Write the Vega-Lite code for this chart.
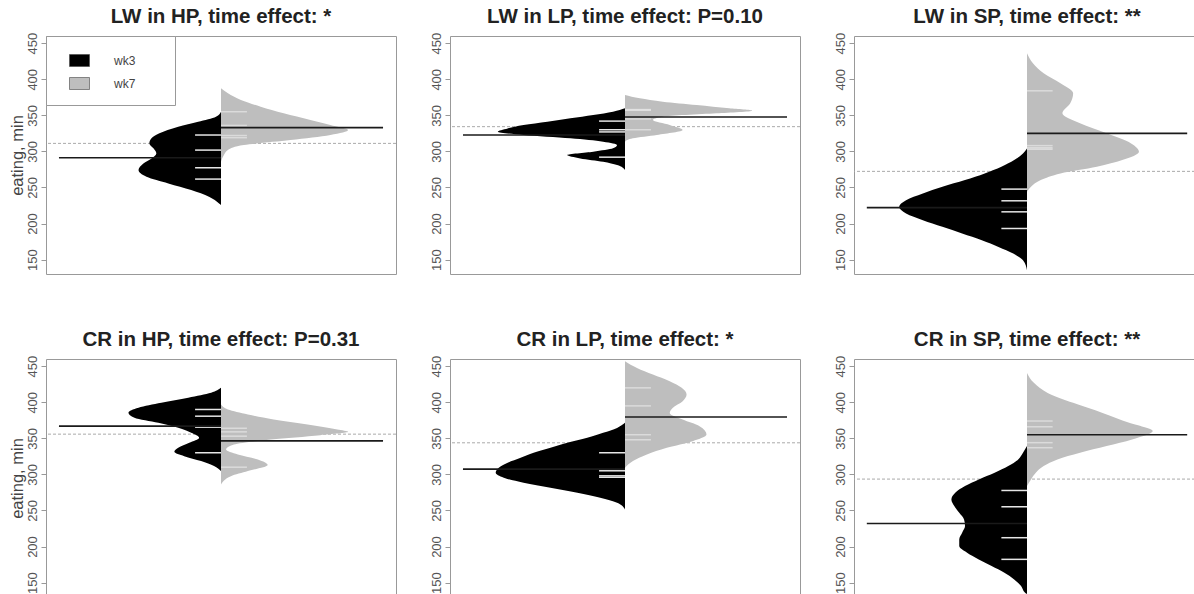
{
"$schema": "https://vega.github.io/schema/vega-lite/v6.json",
"background": "white",
"padding": {"left": 8, "top": 6, "right": 0, "bottom": 0},
"config": {"view": {"stroke": "#999999", "strokeWidth": 1}, "font": "Liberation Sans", "title": {"font": "Liberation Sans", "fontSize": 20.5, "fontWeight": "bold", "color": "#222222", "offset": 5, "anchor": "middle"}},
"columns": 3,
"align": "each",
"spacing": {"row": 54, "column": 32},
"resolve": {"scale": {"color": "independent", "x": "independent", "y": "independent"}, "legend": {"color": "independent"}},
"datasets": {
"dens": [
{"p":"LW HP","t":"wk3","v":225.5,"w":0},{"p":"LW HP","t":"wk3","v":227.8,"w":-0.012},{"p":"LW HP","t":"wk3","v":237,"w":-0.074},{"p":"LW HP","t":"wk3","v":246.3,"w":-0.184},{"p":"LW HP","t":"wk3","v":255.6,"w":-0.325},{"p":"LW HP","t":"wk3","v":264.8,"w":-0.46},{"p":"LW HP","t":"wk3","v":274.1,"w":-0.509},{"p":"LW HP","t":"wk3","v":283.3,"w":-0.479},{"p":"LW HP","t":"wk3","v":290.3,"w":-0.429},{"p":"LW HP","t":"wk3","v":297.2,"w":-0.399},{"p":"LW HP","t":"wk3","v":304.2,"w":-0.417},{"p":"LW HP","t":"wk3","v":311.1,"w":-0.442},{"p":"LW HP","t":"wk3","v":318.1,"w":-0.429},{"p":"LW HP","t":"wk3","v":325,"w":-0.38},{"p":"LW HP","t":"wk3","v":334.3,"w":-0.264},{"p":"LW HP","t":"wk3","v":341.2,"w":-0.141},{"p":"LW HP","t":"wk3","v":348.2,"w":-0.031},{"p":"LW HP","t":"wk3","v":355.1,"w":0},
{"p":"LW HP","t":"wk7","v":285.6,"w":0},{"p":"LW HP","t":"wk7","v":294.9,"w":0.018},{"p":"LW HP","t":"wk7","v":301.9,"w":0.043},{"p":"LW HP","t":"wk7","v":308.8,"w":0.141},{"p":"LW HP","t":"wk7","v":315.7,"w":0.429},{"p":"LW HP","t":"wk7","v":322.7,"w":0.675},{"p":"LW HP","t":"wk7","v":329.6,"w":0.785},{"p":"LW HP","t":"wk7","v":336.6,"w":0.675},{"p":"LW HP","t":"wk7","v":343.5,"w":0.552},{"p":"LW HP","t":"wk7","v":352.8,"w":0.387},{"p":"LW HP","t":"wk7","v":362,"w":0.245},{"p":"LW HP","t":"wk7","v":371.3,"w":0.123},{"p":"LW HP","t":"wk7","v":380.6,"w":0.043},{"p":"LW HP","t":"wk7","v":387.5,"w":0},
{"p":"LW LP","t":"wk3","v":274.1,"w":0},{"p":"LW LP","t":"wk3","v":281,"w":-0.049},{"p":"LW LP","t":"wk3","v":285.6,"w":-0.135},{"p":"LW LP","t":"wk3","v":290.3,"w":-0.276},{"p":"LW LP","t":"wk3","v":294.9,"w":-0.356},{"p":"LW LP","t":"wk3","v":299.5,"w":-0.196},{"p":"LW LP","t":"wk3","v":304.2,"w":-0.074},{"p":"LW LP","t":"wk3","v":308.8,"w":-0.049},{"p":"LW LP","t":"wk3","v":313.4,"w":-0.135},{"p":"LW LP","t":"wk3","v":318.1,"w":-0.337},{"p":"LW LP","t":"wk3","v":322.7,"w":-0.626},{"p":"LW LP","t":"wk3","v":327.3,"w":-0.785},{"p":"LW LP","t":"wk3","v":331.9,"w":-0.724},{"p":"LW LP","t":"wk3","v":336.6,"w":-0.626},{"p":"LW LP","t":"wk3","v":341.2,"w":-0.479},{"p":"LW LP","t":"wk3","v":345.8,"w":-0.337},{"p":"LW LP","t":"wk3","v":350.5,"w":-0.196},{"p":"LW LP","t":"wk3","v":355.1,"w":-0.074},{"p":"LW LP","t":"wk3","v":359.7,"w":0},
{"p":"LW LP","t":"wk7","v":313.4,"w":0},{"p":"LW LP","t":"wk7","v":318.1,"w":0.049},{"p":"LW LP","t":"wk7","v":322.7,"w":0.196},{"p":"LW LP","t":"wk7","v":329.6,"w":0.356},{"p":"LW LP","t":"wk7","v":336.6,"w":0.276},{"p":"LW LP","t":"wk7","v":343.5,"w":0.172},{"p":"LW LP","t":"wk7","v":348.2,"w":0.233},{"p":"LW LP","t":"wk7","v":352.8,"w":0.564},{"p":"LW LP","t":"wk7","v":356.5,"w":0.785},{"p":"LW LP","t":"wk7","v":359.7,"w":0.644},{"p":"LW LP","t":"wk7","v":364.4,"w":0.442},{"p":"LW LP","t":"wk7","v":369,"w":0.233},{"p":"LW LP","t":"wk7","v":373.6,"w":0.092},{"p":"LW LP","t":"wk7","v":378.2,"w":0},
{"p":"LW SP","t":"wk3","v":135.2,"w":0},{"p":"LW SP","t":"wk3","v":149.1,"w":-0.025},{"p":"LW SP","t":"wk3","v":158.3,"w":-0.086},{"p":"LW SP","t":"wk3","v":167.6,"w":-0.178},{"p":"LW SP","t":"wk3","v":176.9,"w":-0.282},{"p":"LW SP","t":"wk3","v":186.1,"w":-0.405},{"p":"LW SP","t":"wk3","v":195.4,"w":-0.528},{"p":"LW SP","t":"wk3","v":204.6,"w":-0.65},{"p":"LW SP","t":"wk3","v":213.9,"w":-0.755},{"p":"LW SP","t":"wk3","v":223.1,"w":-0.798},{"p":"LW SP","t":"wk3","v":232.4,"w":-0.755},{"p":"LW SP","t":"wk3","v":241.7,"w":-0.65},{"p":"LW SP","t":"wk3","v":250.9,"w":-0.528},{"p":"LW SP","t":"wk3","v":260.2,"w":-0.387},{"p":"LW SP","t":"wk3","v":269.4,"w":-0.264},{"p":"LW SP","t":"wk3","v":278.7,"w":-0.16},{"p":"LW SP","t":"wk3","v":288,"w":-0.08},{"p":"LW SP","t":"wk3","v":297.2,"w":-0.025},{"p":"LW SP","t":"wk3","v":304,"w":0},
{"p":"LW SP","t":"wk7","v":244,"w":0},{"p":"LW SP","t":"wk7","v":250.9,"w":0.025},{"p":"LW SP","t":"wk7","v":260.2,"w":0.086},{"p":"LW SP","t":"wk7","v":269.4,"w":0.209},{"p":"LW SP","t":"wk7","v":278.7,"w":0.436},{"p":"LW SP","t":"wk7","v":288,"w":0.595},{"p":"LW SP","t":"wk7","v":299.5,"w":0.699},{"p":"LW SP","t":"wk7","v":311.1,"w":0.65},{"p":"LW SP","t":"wk7","v":325,"w":0.497},{"p":"LW SP","t":"wk7","v":338.9,"w":0.331},{"p":"LW SP","t":"wk7","v":352.8,"w":0.221},{"p":"LW SP","t":"wk7","v":366.7,"w":0.27},{"p":"LW SP","t":"wk7","v":380.6,"w":0.288},{"p":"LW SP","t":"wk7","v":394.4,"w":0.209},{"p":"LW SP","t":"wk7","v":408.3,"w":0.104},{"p":"LW SP","t":"wk7","v":422.2,"w":0.037},{"p":"LW SP","t":"wk7","v":436.1,"w":0},
{"p":"CR HP","t":"wk3","v":304.6,"w":0},{"p":"CR HP","t":"wk3","v":311.5,"w":-0.043},{"p":"CR HP","t":"wk3","v":318.4,"w":-0.123},{"p":"CR HP","t":"wk3","v":325.3,"w":-0.227},{"p":"CR HP","t":"wk3","v":331.4,"w":-0.288},{"p":"CR HP","t":"wk3","v":336.9,"w":-0.264},{"p":"CR HP","t":"wk3","v":343.8,"w":-0.196},{"p":"CR HP","t":"wk3","v":350.8,"w":-0.135},{"p":"CR HP","t":"wk3","v":357.7,"w":-0.184},{"p":"CR HP","t":"wk3","v":364.6,"w":-0.264},{"p":"CR HP","t":"wk3","v":371.5,"w":-0.387},{"p":"CR HP","t":"wk3","v":378.5,"w":-0.534},{"p":"CR HP","t":"wk3","v":385.4,"w":-0.571},{"p":"CR HP","t":"wk3","v":392.3,"w":-0.509},{"p":"CR HP","t":"wk3","v":399.2,"w":-0.368},{"p":"CR HP","t":"wk3","v":406.2,"w":-0.202},{"p":"CR HP","t":"wk3","v":413.1,"w":-0.061},{"p":"CR HP","t":"wk3","v":420,"w":0},
{"p":"CR HP","t":"wk7","v":286,"w":0},{"p":"CR HP","t":"wk7","v":297.6,"w":0.061},{"p":"CR HP","t":"wk7","v":304.6,"w":0.166},{"p":"CR HP","t":"wk7","v":312.9,"w":0.288},{"p":"CR HP","t":"wk7","v":320.6,"w":0.227},{"p":"CR HP","t":"wk7","v":327.6,"w":0.104},{"p":"CR HP","t":"wk7","v":334.5,"w":0.031},{"p":"CR HP","t":"wk7","v":341.4,"w":0.08},{"p":"CR HP","t":"wk7","v":348.3,"w":0.307},{"p":"CR HP","t":"wk7","v":354.4,"w":0.613},{"p":"CR HP","t":"wk7","v":359,"w":0.785},{"p":"CR HP","t":"wk7","v":362.2,"w":0.718},{"p":"CR HP","t":"wk7","v":369.1,"w":0.534},{"p":"CR HP","t":"wk7","v":376,"w":0.325},{"p":"CR HP","t":"wk7","v":383,"w":0.166},{"p":"CR HP","t":"wk7","v":389.9,"w":0.043},{"p":"CR HP","t":"wk7","v":396.8,"w":0},
{"p":"CR LP","t":"wk3","v":251.4,"w":0},{"p":"CR LP","t":"wk3","v":260.7,"w":-0.049},{"p":"CR LP","t":"wk3","v":267.6,"w":-0.153},{"p":"CR LP","t":"wk3","v":274.5,"w":-0.294},{"p":"CR LP","t":"wk3","v":281.4,"w":-0.46},{"p":"CR LP","t":"wk3","v":288.4,"w":-0.626},{"p":"CR LP","t":"wk3","v":295.3,"w":-0.748},{"p":"CR LP","t":"wk3","v":302.2,"w":-0.798},{"p":"CR LP","t":"wk3","v":309.1,"w":-0.779},{"p":"CR LP","t":"wk3","v":316.1,"w":-0.724},{"p":"CR LP","t":"wk3","v":323,"w":-0.644},{"p":"CR LP","t":"wk3","v":329.9,"w":-0.564},{"p":"CR LP","t":"wk3","v":336.8,"w":-0.46},{"p":"CR LP","t":"wk3","v":343.8,"w":-0.356},{"p":"CR LP","t":"wk3","v":350.7,"w":-0.233},{"p":"CR LP","t":"wk3","v":357.6,"w":-0.135},{"p":"CR LP","t":"wk3","v":364.5,"w":-0.049},{"p":"CR LP","t":"wk3","v":371.5,"w":0},
{"p":"CR LP","t":"wk7","v":309.1,"w":0},{"p":"CR LP","t":"wk7","v":318.4,"w":0.049},{"p":"CR LP","t":"wk7","v":327.6,"w":0.135},{"p":"CR LP","t":"wk7","v":336.8,"w":0.258},{"p":"CR LP","t":"wk7","v":346.1,"w":0.417},{"p":"CR LP","t":"wk7","v":355.3,"w":0.503},{"p":"CR LP","t":"wk7","v":366.9,"w":0.46},{"p":"CR LP","t":"wk7","v":376,"w":0.356},{"p":"CR LP","t":"wk7","v":385.3,"w":0.276},{"p":"CR LP","t":"wk7","v":392.2,"w":0.294},{"p":"CR LP","t":"wk7","v":401.5,"w":0.356},{"p":"CR LP","t":"wk7","v":410.7,"w":0.38},{"p":"CR LP","t":"wk7","v":420,"w":0.35},{"p":"CR LP","t":"wk7","v":429.2,"w":0.276},{"p":"CR LP","t":"wk7","v":438.4,"w":0.172},{"p":"CR LP","t":"wk7","v":447.6,"w":0.074},{"p":"CR LP","t":"wk7","v":457,"w":0},
{"p":"CR SP","t":"wk3","v":134,"w":0},{"p":"CR SP","t":"wk3","v":136,"w":-0.012},{"p":"CR SP","t":"wk3","v":145.3,"w":-0.037},{"p":"CR SP","t":"wk3","v":154.4,"w":-0.08},{"p":"CR SP","t":"wk3","v":163.7,"w":-0.141},{"p":"CR SP","t":"wk3","v":173,"w":-0.221},{"p":"CR SP","t":"wk3","v":182.1,"w":-0.301},{"p":"CR SP","t":"wk3","v":191.4,"w":-0.374},{"p":"CR SP","t":"wk3","v":200.7,"w":-0.423},{"p":"CR SP","t":"wk3","v":209.8,"w":-0.423},{"p":"CR SP","t":"wk3","v":219.1,"w":-0.405},{"p":"CR SP","t":"wk3","v":228.4,"w":-0.387},{"p":"CR SP","t":"wk3","v":237.5,"w":-0.393},{"p":"CR SP","t":"wk3","v":246.8,"w":-0.423},{"p":"CR SP","t":"wk3","v":256.1,"w":-0.454},{"p":"CR SP","t":"wk3","v":265.2,"w":-0.472},{"p":"CR SP","t":"wk3","v":274.5,"w":-0.448},{"p":"CR SP","t":"wk3","v":283.8,"w":-0.387},{"p":"CR SP","t":"wk3","v":292.9,"w":-0.301},{"p":"CR SP","t":"wk3","v":302.2,"w":-0.202},{"p":"CR SP","t":"wk3","v":311.5,"w":-0.117},{"p":"CR SP","t":"wk3","v":320.6,"w":-0.055},{"p":"CR SP","t":"wk3","v":329.9,"w":-0.025},{"p":"CR SP","t":"wk3","v":339.2,"w":0},
{"p":"CR SP","t":"wk7","v":283.8,"w":0},{"p":"CR SP","t":"wk7","v":292.9,"w":0.025},{"p":"CR SP","t":"wk7","v":302.2,"w":0.055},{"p":"CR SP","t":"wk7","v":311.5,"w":0.104},{"p":"CR SP","t":"wk7","v":320.6,"w":0.19},{"p":"CR SP","t":"wk7","v":329.9,"w":0.331},{"p":"CR SP","t":"wk7","v":339.2,"w":0.497},{"p":"CR SP","t":"wk7","v":348.3,"w":0.656},{"p":"CR SP","t":"wk7","v":360,"w":0.785},{"p":"CR SP","t":"wk7","v":371.5,"w":0.638},{"p":"CR SP","t":"wk7","v":385.3,"w":0.472},{"p":"CR SP","t":"wk7","v":399.2,"w":0.288},{"p":"CR SP","t":"wk7","v":413,"w":0.129},{"p":"CR SP","t":"wk7","v":426.9,"w":0.043},{"p":"CR SP","t":"wk7","v":440.7,"w":0}
],
"obs": [
{"p":"LW HP","t":"wk3","v":322.7},{"p":"LW HP","t":"wk3","v":301.8},{"p":"LW HP","t":"wk3","v":277.3},{"p":"LW HP","t":"wk3","v":261.6},
{"p":"LW HP","t":"wk7","v":355},{"p":"LW HP","t":"wk7","v":336},{"p":"LW HP","t":"wk7","v":322},{"p":"LW HP","t":"wk7","v":319},
{"p":"LW LP","t":"wk3","v":342},{"p":"LW LP","t":"wk3","v":330},{"p":"LW LP","t":"wk3","v":327},{"p":"LW LP","t":"wk3","v":292},
{"p":"LW LP","t":"wk7","v":358},{"p":"LW LP","t":"wk7","v":357},{"p":"LW LP","t":"wk7","v":345},{"p":"LW LP","t":"wk7","v":330},
{"p":"LW SP","t":"wk3","v":247.7},{"p":"LW SP","t":"wk3","v":231.5},{"p":"LW SP","t":"wk3","v":216.2},{"p":"LW SP","t":"wk3","v":193.1},
{"p":"LW SP","t":"wk7","v":384},{"p":"LW SP","t":"wk7","v":308},{"p":"LW SP","t":"wk7","v":305},{"p":"LW SP","t":"wk7","v":303},
{"p":"CR HP","t":"wk3","v":390},{"p":"CR HP","t":"wk3","v":380.7},{"p":"CR HP","t":"wk3","v":365.5},{"p":"CR HP","t":"wk3","v":330},
{"p":"CR HP","t":"wk7","v":364},{"p":"CR HP","t":"wk7","v":359},{"p":"CR HP","t":"wk7","v":353},{"p":"CR HP","t":"wk7","v":310},
{"p":"CR LP","t":"wk3","v":330},{"p":"CR LP","t":"wk3","v":305},{"p":"CR LP","t":"wk3","v":298},{"p":"CR LP","t":"wk3","v":296},
{"p":"CR LP","t":"wk7","v":420},{"p":"CR LP","t":"wk7","v":395},{"p":"CR LP","t":"wk7","v":355},{"p":"CR LP","t":"wk7","v":348},
{"p":"CR SP","t":"wk3","v":277.7},{"p":"CR SP","t":"wk3","v":255.1},{"p":"CR SP","t":"wk3","v":212.2},{"p":"CR SP","t":"wk3","v":182.2},
{"p":"CR SP","t":"wk7","v":374},{"p":"CR SP","t":"wk7","v":366},{"p":"CR SP","t":"wk7","v":344},{"p":"CR SP","t":"wk7","v":337}
],
"means": [
{"p":"LW HP","t":"wk3","v":291.2},{"p":"LW HP","t":"wk7","v":332.9},
{"p":"LW LP","t":"wk3","v":322.7},{"p":"LW LP","t":"wk7","v":347.7},
{"p":"LW SP","t":"wk3","v":222},{"p":"LW SP","t":"wk7","v":325},
{"p":"CR HP","t":"wk3","v":366.9},{"p":"CR HP","t":"wk7","v":346.5},
{"p":"CR LP","t":"wk3","v":307.3},{"p":"CR LP","t":"wk7","v":379.6},
{"p":"CR SP","t":"wk3","v":232},{"p":"CR SP","t":"wk7","v":355}
],
"overall": [
{"p":"LW HP","v":311.1},{"p":"LW LP","v":334.3},{"p":"LW SP","v":272.3},
{"p":"CR HP","v":355.8},{"p":"CR LP","v":343.8},{"p":"CR SP","v":293.5}
]
},
"concat": [
{"width": 350, "height": 238, "title": "LW in HP, time effect: *",
 "encoding": {"y": {"field": "v", "type": "quantitative", "scale": {"domain": [130, 460], "nice": false, "zero": false}, "axis": {"values": [150,200,250,300,350,400,450], "title": "eating, min", "titleFontSize": 16.5, "titleFontWeight": "normal", "titleColor": "#444444", "titlePadding": 1, "labelAngle": 270, "labelFontSize": 13, "labelColor": "#555555", "labelPadding": 2, "tickColor": "#999999", "tickSize": 5, "domain": false, "grid": false}}},
 "layer": [
  {"data": {"name": "overall"}, "transform": [{"filter": "datum.p == 'LW HP'"}], "mark": {"type": "rule", "color": "#aaaaaa", "strokeWidth": 1, "strokeDash": [3, 2]}, "encoding": {}},
  {"data": {"name": "dens"}, "transform": [{"filter": "datum.p == 'LW HP'"}], "mark": {"type": "area", "orient": "horizontal", "interpolate": "monotone", "opacity": 1}, "encoding": {"x": {"field": "w", "type": "quantitative", "stack": null, "scale": {"domain": [-1.08, 1.08], "nice": false, "zero": false}, "axis": null}, "x2": {"datum": 0}, "color": {"field": "t", "type": "nominal", "scale": {"domain": ["wk3", "wk7"], "range": ["#000000", "#bebebe"]}, "legend": {"orient": "top-left", "offset": 0, "title": "wk3", "titleOrient": "right", "titleOpacity": 0, "titleFontSize": 12, "titlePadding": 3, "symbolType": "M-1,-0.6H1V0.6H-1Z", "symbolSize": 400, "symbolStrokeColor": "#444444", "symbolStrokeWidth": 0.6, "symbolOffset": 9, "labelOffset": 24, "labelFontSize": 12, "labelColor": "#444444", "labelFont": "Liberation Sans", "padding": 14, "rowPadding": 5, "strokeColor": "#999999", "fillColor": "white"}}}},
  {"data": {"name": "obs"}, "transform": [{"filter": "datum.p == 'LW HP' && datum.t == 'wk3'"}], "mark": {"type": "rule", "color": "#e6e6e6", "strokeWidth": 1.5}, "encoding": {"x": {"datum": -0.16, "axis": null}, "x2": {"datum": 0}}},
  {"data": {"name": "obs"}, "transform": [{"filter": "datum.p == 'LW HP' && datum.t == 'wk7'"}], "mark": {"type": "rule", "color": "#ffffff", "opacity": 0.45, "strokeWidth": 1.5}, "encoding": {"x": {"datum": 0, "axis": null}, "x2": {"datum": 0.16}}},
  {"data": {"name": "means"}, "transform": [{"filter": "datum.p == 'LW HP' && datum.t == 'wk3'"}], "mark": {"type": "rule", "color": "#1a1a1a", "strokeWidth": 1.6}, "encoding": {"x": {"datum": -1, "axis": null}, "x2": {"datum": 0}}},
  {"data": {"name": "means"}, "transform": [{"filter": "datum.p == 'LW HP' && datum.t == 'wk7'"}], "mark": {"type": "rule", "color": "#1a1a1a", "strokeWidth": 1.6}, "encoding": {"x": {"datum": 0, "axis": null}, "x2": {"datum": 1}}}
 ]},
{"width": 350, "height": 238, "title": "LW in LP, time effect: P=0.10",
 "encoding": {"y": {"field": "v", "type": "quantitative", "scale": {"domain": [130, 460], "nice": false, "zero": false}, "axis": {"values": [150,200,250,300,350,400,450], "title": null, "labelAngle": 270, "labelFontSize": 13, "labelColor": "#555555", "labelPadding": 2, "tickColor": "#999999", "tickSize": 5, "domain": false, "grid": false}}},
 "layer": [
  {"data": {"name": "overall"}, "transform": [{"filter": "datum.p == 'LW LP'"}], "mark": {"type": "rule", "color": "#aaaaaa", "strokeWidth": 1, "strokeDash": [3, 2]}, "encoding": {}},
  {"data": {"name": "dens"}, "transform": [{"filter": "datum.p == 'LW LP'"}], "mark": {"type": "area", "orient": "horizontal", "interpolate": "monotone", "opacity": 1}, "encoding": {"x": {"field": "w", "type": "quantitative", "stack": null, "scale": {"domain": [-1.08, 1.08], "nice": false, "zero": false}, "axis": null}, "x2": {"datum": 0}, "color": {"field": "t", "type": "nominal", "scale": {"domain": ["wk3", "wk7"], "range": ["#000000", "#bebebe"]}, "legend": null}}},
  {"data": {"name": "obs"}, "transform": [{"filter": "datum.p == 'LW LP' && datum.t == 'wk3'"}], "mark": {"type": "rule", "color": "#e6e6e6", "strokeWidth": 1.5}, "encoding": {"x": {"datum": -0.16, "axis": null}, "x2": {"datum": 0}}},
  {"data": {"name": "obs"}, "transform": [{"filter": "datum.p == 'LW LP' && datum.t == 'wk7'"}], "mark": {"type": "rule", "color": "#ffffff", "opacity": 0.45, "strokeWidth": 1.5}, "encoding": {"x": {"datum": 0, "axis": null}, "x2": {"datum": 0.16}}},
  {"data": {"name": "means"}, "transform": [{"filter": "datum.p == 'LW LP' && datum.t == 'wk3'"}], "mark": {"type": "rule", "color": "#1a1a1a", "strokeWidth": 1.6}, "encoding": {"x": {"datum": -1, "axis": null}, "x2": {"datum": 0}}},
  {"data": {"name": "means"}, "transform": [{"filter": "datum.p == 'LW LP' && datum.t == 'wk7'"}], "mark": {"type": "rule", "color": "#1a1a1a", "strokeWidth": 1.6}, "encoding": {"x": {"datum": 0, "axis": null}, "x2": {"datum": 1}}}
 ]},
{"width": 346, "height": 238, "title": "LW in SP, time effect: **",
 "encoding": {"y": {"field": "v", "type": "quantitative", "scale": {"domain": [130, 460], "nice": false, "zero": false}, "axis": {"values": [150,200,250,300,350,400,450], "title": null, "labelAngle": 270, "labelFontSize": 13, "labelColor": "#555555", "labelPadding": 2, "tickColor": "#999999", "tickSize": 5, "domain": false, "grid": false}}},
 "layer": [
  {"data": {"name": "overall"}, "transform": [{"filter": "datum.p == 'LW SP'"}], "mark": {"type": "rule", "color": "#aaaaaa", "strokeWidth": 1, "strokeDash": [3, 2]}, "encoding": {}},
  {"data": {"name": "dens"}, "transform": [{"filter": "datum.p == 'LW SP'"}], "mark": {"type": "area", "orient": "horizontal", "interpolate": "monotone", "opacity": 1}, "encoding": {"x": {"field": "w", "type": "quantitative", "stack": null, "scale": {"domain": [-1.08, 1.08], "nice": false, "zero": false}, "axis": null}, "x2": {"datum": 0}, "color": {"field": "t", "type": "nominal", "scale": {"domain": ["wk3", "wk7"], "range": ["#000000", "#bebebe"]}, "legend": null}}},
  {"data": {"name": "obs"}, "transform": [{"filter": "datum.p == 'LW SP' && datum.t == 'wk3'"}], "mark": {"type": "rule", "color": "#e6e6e6", "strokeWidth": 1.5}, "encoding": {"x": {"datum": -0.16, "axis": null}, "x2": {"datum": 0}}},
  {"data": {"name": "obs"}, "transform": [{"filter": "datum.p == 'LW SP' && datum.t == 'wk7'"}], "mark": {"type": "rule", "color": "#ffffff", "opacity": 0.45, "strokeWidth": 1.5}, "encoding": {"x": {"datum": 0, "axis": null}, "x2": {"datum": 0.16}}},
  {"data": {"name": "means"}, "transform": [{"filter": "datum.p == 'LW SP' && datum.t == 'wk3'"}], "mark": {"type": "rule", "color": "#1a1a1a", "strokeWidth": 1.6}, "encoding": {"x": {"datum": -1, "axis": null}, "x2": {"datum": 0}}},
  {"data": {"name": "means"}, "transform": [{"filter": "datum.p == 'LW SP' && datum.t == 'wk7'"}], "mark": {"type": "rule", "color": "#1a1a1a", "strokeWidth": 1.6}, "encoding": {"x": {"datum": 0, "axis": null}, "x2": {"datum": 1}}}
 ]},
{"width": 350, "height": 238, "title": "CR in HP, time effect: P=0.31",
 "encoding": {"y": {"field": "v", "type": "quantitative", "scale": {"domain": [130, 460], "nice": false, "zero": false}, "axis": {"values": [150,200,250,300,350,400,450], "title": "eating, min", "titleFontSize": 16.5, "titleFontWeight": "normal", "titleColor": "#444444", "titlePadding": 1, "labelAngle": 270, "labelFontSize": 13, "labelColor": "#555555", "labelPadding": 2, "tickColor": "#999999", "tickSize": 5, "domain": false, "grid": false}}},
 "layer": [
  {"data": {"name": "overall"}, "transform": [{"filter": "datum.p == 'CR HP'"}], "mark": {"type": "rule", "color": "#aaaaaa", "strokeWidth": 1, "strokeDash": [3, 2]}, "encoding": {}},
  {"data": {"name": "dens"}, "transform": [{"filter": "datum.p == 'CR HP'"}], "mark": {"type": "area", "orient": "horizontal", "interpolate": "monotone", "opacity": 1}, "encoding": {"x": {"field": "w", "type": "quantitative", "stack": null, "scale": {"domain": [-1.08, 1.08], "nice": false, "zero": false}, "axis": null}, "x2": {"datum": 0}, "color": {"field": "t", "type": "nominal", "scale": {"domain": ["wk3", "wk7"], "range": ["#000000", "#bebebe"]}, "legend": null}}},
  {"data": {"name": "obs"}, "transform": [{"filter": "datum.p == 'CR HP' && datum.t == 'wk3'"}], "mark": {"type": "rule", "color": "#e6e6e6", "strokeWidth": 1.5}, "encoding": {"x": {"datum": -0.16, "axis": null}, "x2": {"datum": 0}}},
  {"data": {"name": "obs"}, "transform": [{"filter": "datum.p == 'CR HP' && datum.t == 'wk7'"}], "mark": {"type": "rule", "color": "#ffffff", "opacity": 0.45, "strokeWidth": 1.5}, "encoding": {"x": {"datum": 0, "axis": null}, "x2": {"datum": 0.16}}},
  {"data": {"name": "means"}, "transform": [{"filter": "datum.p == 'CR HP' && datum.t == 'wk3'"}], "mark": {"type": "rule", "color": "#1a1a1a", "strokeWidth": 1.6}, "encoding": {"x": {"datum": -1, "axis": null}, "x2": {"datum": 0}}},
  {"data": {"name": "means"}, "transform": [{"filter": "datum.p == 'CR HP' && datum.t == 'wk7'"}], "mark": {"type": "rule", "color": "#1a1a1a", "strokeWidth": 1.6}, "encoding": {"x": {"datum": 0, "axis": null}, "x2": {"datum": 1}}}
 ]},
{"width": 350, "height": 238, "title": "CR in LP, time effect: *",
 "encoding": {"y": {"field": "v", "type": "quantitative", "scale": {"domain": [130, 460], "nice": false, "zero": false}, "axis": {"values": [150,200,250,300,350,400,450], "title": null, "labelAngle": 270, "labelFontSize": 13, "labelColor": "#555555", "labelPadding": 2, "tickColor": "#999999", "tickSize": 5, "domain": false, "grid": false}}},
 "layer": [
  {"data": {"name": "overall"}, "transform": [{"filter": "datum.p == 'CR LP'"}], "mark": {"type": "rule", "color": "#aaaaaa", "strokeWidth": 1, "strokeDash": [3, 2]}, "encoding": {}},
  {"data": {"name": "dens"}, "transform": [{"filter": "datum.p == 'CR LP'"}], "mark": {"type": "area", "orient": "horizontal", "interpolate": "monotone", "opacity": 1}, "encoding": {"x": {"field": "w", "type": "quantitative", "stack": null, "scale": {"domain": [-1.08, 1.08], "nice": false, "zero": false}, "axis": null}, "x2": {"datum": 0}, "color": {"field": "t", "type": "nominal", "scale": {"domain": ["wk3", "wk7"], "range": ["#000000", "#bebebe"]}, "legend": null}}},
  {"data": {"name": "obs"}, "transform": [{"filter": "datum.p == 'CR LP' && datum.t == 'wk3'"}], "mark": {"type": "rule", "color": "#e6e6e6", "strokeWidth": 1.5}, "encoding": {"x": {"datum": -0.16, "axis": null}, "x2": {"datum": 0}}},
  {"data": {"name": "obs"}, "transform": [{"filter": "datum.p == 'CR LP' && datum.t == 'wk7'"}], "mark": {"type": "rule", "color": "#ffffff", "opacity": 0.45, "strokeWidth": 1.5}, "encoding": {"x": {"datum": 0, "axis": null}, "x2": {"datum": 0.16}}},
  {"data": {"name": "means"}, "transform": [{"filter": "datum.p == 'CR LP' && datum.t == 'wk3'"}], "mark": {"type": "rule", "color": "#1a1a1a", "strokeWidth": 1.6}, "encoding": {"x": {"datum": -1, "axis": null}, "x2": {"datum": 0}}},
  {"data": {"name": "means"}, "transform": [{"filter": "datum.p == 'CR LP' && datum.t == 'wk7'"}], "mark": {"type": "rule", "color": "#1a1a1a", "strokeWidth": 1.6}, "encoding": {"x": {"datum": 0, "axis": null}, "x2": {"datum": 1}}}
 ]},
{"width": 346, "height": 238, "title": "CR in SP, time effect: **",
 "encoding": {"y": {"field": "v", "type": "quantitative", "scale": {"domain": [130, 460], "nice": false, "zero": false}, "axis": {"values": [150,200,250,300,350,400,450], "title": null, "labelAngle": 270, "labelFontSize": 13, "labelColor": "#555555", "labelPadding": 2, "tickColor": "#999999", "tickSize": 5, "domain": false, "grid": false}}},
 "layer": [
  {"data": {"name": "overall"}, "transform": [{"filter": "datum.p == 'CR SP'"}], "mark": {"type": "rule", "color": "#aaaaaa", "strokeWidth": 1, "strokeDash": [3, 2]}, "encoding": {}},
  {"data": {"name": "dens"}, "transform": [{"filter": "datum.p == 'CR SP'"}], "mark": {"type": "area", "orient": "horizontal", "interpolate": "monotone", "opacity": 1}, "encoding": {"x": {"field": "w", "type": "quantitative", "stack": null, "scale": {"domain": [-1.08, 1.08], "nice": false, "zero": false}, "axis": null}, "x2": {"datum": 0}, "color": {"field": "t", "type": "nominal", "scale": {"domain": ["wk3", "wk7"], "range": ["#000000", "#bebebe"]}, "legend": null}}},
  {"data": {"name": "obs"}, "transform": [{"filter": "datum.p == 'CR SP' && datum.t == 'wk3'"}], "mark": {"type": "rule", "color": "#e6e6e6", "strokeWidth": 1.5}, "encoding": {"x": {"datum": -0.16, "axis": null}, "x2": {"datum": 0}}},
  {"data": {"name": "obs"}, "transform": [{"filter": "datum.p == 'CR SP' && datum.t == 'wk7'"}], "mark": {"type": "rule", "color": "#ffffff", "opacity": 0.45, "strokeWidth": 1.5}, "encoding": {"x": {"datum": 0, "axis": null}, "x2": {"datum": 0.16}}},
  {"data": {"name": "means"}, "transform": [{"filter": "datum.p == 'CR SP' && datum.t == 'wk3'"}], "mark": {"type": "rule", "color": "#1a1a1a", "strokeWidth": 1.6}, "encoding": {"x": {"datum": -1, "axis": null}, "x2": {"datum": 0}}},
  {"data": {"name": "means"}, "transform": [{"filter": "datum.p == 'CR SP' && datum.t == 'wk7'"}], "mark": {"type": "rule", "color": "#1a1a1a", "strokeWidth": 1.6}, "encoding": {"x": {"datum": 0, "axis": null}, "x2": {"datum": 1}}}
 ]}
]
}
